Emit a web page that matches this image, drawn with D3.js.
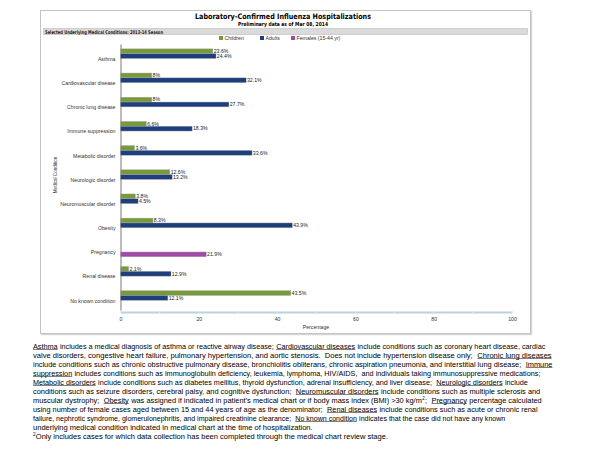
<!DOCTYPE html>
<html>
<meta charset="utf-8">
<style>
  body { margin: 0; background: #fff; }
  svg { width: 600px; height: 450px; display: block; }
  text { font-family: "Liberation Sans", Arial, sans-serif; }
  .ylab text { font-size: 5.2px; fill: #333; }
  .xax text { font-size: 5.2px; fill: #333; }
  .val { font-size: 5.2px; fill: #222; }
  .note { fill: #000; white-space: pre; }
</style>
<body>
  <svg></svg>
</body>

<script src="https://d3js.org/d3.v7.min.js"></script>

<script>
  // data
  var conditions = ["Asthma", "Cardiovascular disease", "Chronic lung disease", "Immune suppression",
    "Metabolic disorder", "Neurologic disorder", "Neuromuscular disorder", "Obesity",
    "Pregnancy", "Renal disease", "No known condition"];
  var seriesNames = ["Children", "Adults", "Females (15-44 yr)"];
  var children = [23.6, 8, 8, 6.6, 3.6, 12.6, 3.8, 8.3, null, 2.1, 43.5];
  var adults   = [24.4, 32.1, 27.7, 18.3, 33.6, 13.2, 4.5, 43.9, null, 12.9, 12.1];
  var females  = [null, null, null, null, null, null, null, null, 21.9, null, null];
  var xTicks = [0, 20, 40, 60, 80, 100];
  var colors = ["#789a3a", "#1f3e7c", "#a24aa8"];

  var svg = d3.select("svg");

  // panel frame
  svg.append("rect").attr("x", 41.5).attr("y", 11.5).attr("width", 490).attr("height", 323)
    .attr("fill", "none").attr("stroke", "#d6d6d6").attr("stroke-width", 1.5);
  svg.append("rect").attr("x", 40.5).attr("y", 10.5).attr("width", 490).attr("height", 323)
    .attr("fill", "#fff").attr("stroke", "#c4c4c4");

  svg.append("text").attr("x", 283).attr("y", 18.5).attr("text-anchor", "middle")
    .attr("textLength", 176).attr("lengthAdjust", "spacingAndGlyphs")
    .style("font-family", "'DejaVu Sans', Verdana, sans-serif")
    .style("font-size", "7.5px").style("font-weight", "bold")
    .text("Laboratory-Confirmed Influenza Hospitalizations");
  svg.append("text").attr("x", 283).attr("y", 25.5).attr("text-anchor", "middle")
    .attr("textLength", 90).attr("lengthAdjust", "spacingAndGlyphs")
    .style("font-family", "'DejaVu Sans', Verdana, sans-serif")
    .style("font-size", "5.5px").style("font-weight", "bold")
    .text("Preliminary data as of Mar 08, 2014");

  // header bar
  svg.append("rect").attr("x", 43.5).attr("y", 28.5).attr("width", 484).attr("height", 6)
    .attr("fill", "#dadada").attr("stroke", "#bdbdbd").attr("stroke-width", 0.6);
  svg.append("text").attr("x", 45).attr("y", 33.6)
    .attr("textLength", 118).attr("lengthAdjust", "spacingAndGlyphs")
    .style("font-family", "'DejaVu Sans', Verdana, sans-serif")
    .style("font-size", "5px").style("font-weight", "bold").style("fill", "#222")
    .text("Selected Underlying Medical Conditions: 2013-14 Season");

  // legend
  var legX = [219, 260, 291];
  var leg = svg.append("g").selectAll("g").data(seriesNames).join("g")
    .attr("transform", function(d, i) { return "translate(" + legX[i] + ",38)"; });
  leg.append("rect").attr("x", 0).attr("y", -2).attr("width", 4).attr("height", 4)
    .attr("fill", function(d, i) { return colors[i]; });
  leg.append("text").attr("x", 5.5).attr("y", 1.8).style("font-size", "5.2px").style("fill", "#333")
    .text(function(d) { return d; });

  // scales
  var xScale = d3.scaleLinear().domain([0, 100]).range([120.5, 512]);
  var yScale = d3.scaleBand().domain(conditions).range([44, 310]).paddingInner(0.4).paddingOuter(0.2);
  var sub = d3.scaleBand().domain(seriesNames).range([0, yScale.bandwidth()]);

  // x axis
  var xAxis = d3.axisBottom(xScale).tickValues(xTicks).tickSize(0).tickPadding(5);
  var gx = svg.append("g").attr("class", "xax").attr("transform", "translate(0,312)").call(xAxis);
  gx.select(".domain").attr("stroke", "#bccfe6").attr("stroke-width", 2.2);
  gx.selectAll(".minor").data(d3.range(0, 101, 10)).join("line").attr("class", "minor")
    .attr("x1", function(d) { return xScale(d); }).attr("x2", function(d) { return xScale(d); })
    .attr("y1", -1.3).attr("y2", 1.3).attr("stroke", "#e8eef7").attr("stroke-width", 0.8);
  svg.append("text").attr("x", 316).attr("y", 329).attr("text-anchor", "middle")
    .style("font-size", "5.2px").style("fill", "#333").text("Percentage");

  // y axis
  var yAxis = d3.axisLeft(yScale).tickSize(0).tickPadding(5);
  var gy = svg.append("g").attr("class", "ylab").attr("transform", "translate(120.5,0)").call(yAxis);
  gy.select(".domain").attr("stroke", "#555").attr("stroke-width", 0.8);
  gy.selectAll(".tick text").attr("dy", "0.9em");
  svg.append("text").attr("transform", "translate(57,175) rotate(-90)").attr("text-anchor", "middle")
    .style("font-size", "4.6px").style("fill", "#333").text("Medical Condition");

  // bars
  var all = [children, adults, females];
  var rows = [];
  all.forEach(function(vals, s) {
    vals.forEach(function(v, i) {
      if (v !== null) rows.push({cat: conditions[i], series: seriesNames[s], s: s, v: v});
    });
  });

  var bars = svg.append("g");
  bars.selectAll("rect").data(rows).join("rect")
    .attr("x", xScale(0))
    .attr("y", function(d) { return yScale(d.cat) + sub(d.series); })
    .attr("width", function(d) { return xScale(d.v) - xScale(0); })
    .attr("height", sub.bandwidth())
    .attr("fill", function(d) { return colors[d.s]; })
    .attr("stroke", "#aaa").attr("stroke-width", 0.4);
  bars.selectAll("text").data(rows).join("text").attr("class", "val")
    .attr("x", function(d) { return xScale(d.v) + 0.8; })
    .attr("y", function(d) { return yScale(d.cat) + sub(d.series) + sub.bandwidth() / 2 + 1.8; })
    .text(function(d) { return d.v + "%"; });

  // footnote: 0 = plain, 1 = underlined, 2 = superscript
  var notes = [
    [["Asthma", 1], [" includes a medical diagnosis of asthma or reactive airway disease; ", 0], ["Cardiovascular diseases", 1], [" include conditions such as coronary heart disease, cardiac", 0]],
    [["valve disorders, congestive heart failure, pulmonary hypertension, and aortic stenosis.  Does not include hypertension disease only;  ", 0], ["Chronic lung diseases", 1]],
    [["include conditions such as chronic obstructive pulmonary disease, bronchiolitis obliterans, chronic aspiration pneumonia, and interstitial lung disease;  ", 0], ["Immune", 1]],
    [["suppression", 1], [" includes conditions such as immunoglobulin deficiency, leukemia, lymphoma, HIV/AIDS,  and individuals taking immunosuppressive medications;", 0]],
    [["Metabolic disorders", 1], [" include conditions such as diabetes mellitus, thyroid dysfunction, adrenal insufficiency, and liver disease;  ", 0], ["Neurologic disorders", 1], [" include", 0]],
    [["conditions such as seizure disorders, cerebral palsy, and cognitive dysfunction;  ", 0], ["Neuromuscular disorders", 1], [" include conditions such as multiple sclerosis and", 0]],
    [["muscular dystrophy;  ", 0], ["Obesity", 1], [" was assigned if indicated in patient\u2019s medical chart or if body mass index (BMI) >30 kg/m", 0], ["2", 2], [";  ", 0], ["Pregnancy", 1], [" percentage calculated", 0]],
    [["using number of female cases aged between 15 and 44 years of age as the denominator;  ", 0], ["Renal diseases", 1], [" include conditions such as acute or chronic renal", 0]],
    [["failure, nephrotic syndrome, glomerulonephritis, and impaired creatinine clearance;  ", 0], ["No known condition", 1], [" indicates that the case did not have any known", 0]],
    [["underlying medical condition indicated in medical chart at the time of hospitalization.", 0]],
    [["2", 2], ["Only includes cases for which data collection has been completed through the medical chart review stage.", 0]]
  ];
  var noteWidths = [512, 519, 520, 508, 494, 507, 507, 504, 472, 280, 355];
  var noteSize = 7.6, supSize = 4.6;

  var noteG = svg.append("g");
  notes.forEach(function(line, i) {
    var base = 348.5 + i * 9;
    // measure the line at the base size, then pick a size that gives its width
    var pieces = line.map(function(seg) {
      var t = noteG.append("text").attr("class", "note").attr("x", 0).attr("y", base)
        .style("font-size", (seg[1] === 2 ? supSize : noteSize) + "px")
        .text(seg[0]);
      return {node: t, seg: seg};
    });
    var total = d3.sum(pieces, function(p) { return p.node.node().getComputedTextLength(); });
    var k = noteWidths[i] / total;
    var cx = 33;
    pieces.forEach(function(p) {
      p.node.style("font-size", ((p.seg[1] === 2 ? supSize : noteSize) * k) + "px")
        .attr("x", cx);
      var w = p.node.node().getComputedTextLength();
      if (p.seg[1] === 2) p.node.attr("y", base - 2.6);
      if (p.seg[1] === 1) {
        noteG.append("line").attr("x1", cx).attr("x2", cx + w)
          .attr("y1", base + 1).attr("y2", base + 1)
          .attr("stroke", "#000").attr("stroke-width", 0.5);
      }
      cx += w + 0.3;
    });
  });
</script>
</html>
